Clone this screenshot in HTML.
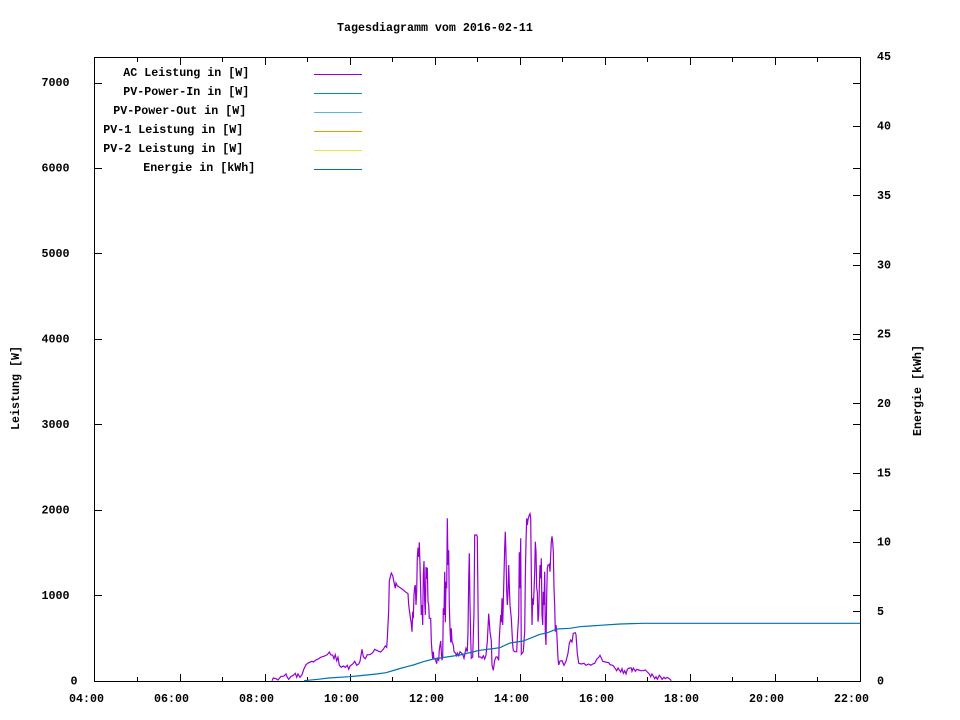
<!DOCTYPE html>
<html>
<head>
<meta charset="utf-8">
<style>
html,body{margin:0;padding:0;background:#fff;}
svg{display:block;}
text{font-family:"Liberation Mono","DejaVu Sans Mono",monospace;font-weight:bold;font-size:11.67px;fill:#000;}
</style>
</head>
<body>
<svg width="960" height="720" viewBox="0 0 960 720" xmlns="http://www.w3.org/2000/svg">
<rect x="0" y="0" width="960" height="720" fill="#fff"/>

<!-- Title -->
<text x="337" y="31">Tagesdiagramm vom 2016-02-11</text>

<!-- Frame -->
<g stroke="#000" stroke-width="1" shape-rendering="crispEdges" fill="none">
<rect x="94.5" y="57.5" width="766" height="624"/>
<!-- left y ticks + mirrored on right -->
<path d="M95 681.5h7M95 595.5h7M95 510.5h7M95 424.5h7M95 339.5h7M95 253.5h7M95 168.5h7M95 83.5h7"/>
<path d="M853 595.5h7M853 510.5h7M853 424.5h7M853 339.5h7M853 253.5h7M853 168.5h7M853 83.5h7"/>
<!-- y2 ticks -->
<path d="M853 611.5h7M853 542.5h7M853 473.5h7M853 403.5h7M853 334.5h7M853 265.5h7M853 195.5h7M853 126.5h7"/>
<!-- x major ticks bottom/top -->
<path d="M180.5 681v-7M265.5 681v-7M350.5 681v-7M435.5 681v-7M520.5 681v-7M605.5 681v-7M690.5 681v-7M775.5 681v-7"/>
<path d="M180.5 58v7M265.5 58v7M350.5 58v7M435.5 58v7M520.5 58v7M605.5 58v7M690.5 58v7M775.5 58v7"/>
<!-- x minor ticks -->
<path d="M137.5 681v-4M222.5 681v-4M307.5 681v-4M392.5 681v-4M477.5 681v-4M562.5 681v-4M647.5 681v-4M732.5 681v-4M817.5 681v-4"/>
<path d="M137.5 58v4M222.5 58v4M307.5 58v4M392.5 58v4M477.5 58v4M562.5 58v4M647.5 58v4M732.5 58v4M817.5 58v4"/>
</g>

<!-- Left y labels -->
<text x="70.5" y="684.5">0</text>
<text x="41.5" y="599">1000</text>
<text x="41.5" y="513.5">2000</text>
<text x="41.5" y="428">3000</text>
<text x="41.5" y="342.5">4000</text>
<text x="41.5" y="257">5000</text>
<text x="41.5" y="171.5">6000</text>
<text x="41.5" y="86">7000</text>

<!-- Right y labels -->
<text x="877" y="684.5">0</text>
<text x="877" y="615">5</text>
<text x="877" y="545.5">10</text>
<text x="877" y="476.5">15</text>
<text x="877" y="407">20</text>
<text x="877" y="337.5">25</text>
<text x="877" y="268.5">30</text>
<text x="877" y="199">35</text>
<text x="877" y="129.5">40</text>
<text x="877" y="60">45</text>

<!-- X labels -->
<text x="69" y="702">04:00</text>
<text x="154" y="702">06:00</text>
<text x="239" y="702">08:00</text>
<text x="324" y="702">10:00</text>
<text x="409" y="702">12:00</text>
<text x="494" y="702">14:00</text>
<text x="579" y="702">16:00</text>
<text x="664" y="702">18:00</text>
<text x="749" y="702">20:00</text>
<text x="834" y="702">22:00</text>

<!-- Axis titles -->
<text transform="translate(19,388) rotate(-90)" text-anchor="middle">Leistung [W]</text>
<text transform="translate(921,390.5) rotate(-90)" text-anchor="middle">Energie [kWh]</text>

<!-- Legend -->
<text x="123.3" y="76">AC Leistung in [W]</text>
<text x="123.3" y="95">PV-Power-In in [W]</text>
<text x="113.3" y="114">PV-Power-Out in [W]</text>
<text x="103.3" y="133">PV-1 Leistung in [W]</text>
<text x="103.3" y="152">PV-2 Leistung in [W]</text>
<text x="143.3" y="171">Energie in [kWh]</text>
<g stroke-width="1" shape-rendering="crispEdges">
<path d="M314 74.5h48" stroke="#9400d3"/>
<path d="M314 93.5h48" stroke="#009e73"/>
<path d="M314 112.5h48" stroke="#56b4e9"/>
<path d="M314 131.5h48" stroke="#e69f00"/>
<path d="M314 150.5h48" stroke="#f0e442"/>
<path d="M314 169.5h48" stroke="#0072b2"/>
</g>

<!-- AC Leistung (purple) -->
<polyline fill="none" stroke="#9400d3" stroke-width="1.2" stroke-linejoin="miter" points="
272,680.7 273.3,678 276,678.7 278,680 280.7,676.7 284,676 286,674 287.3,677.3 288.7,679.3 290.7,676.7 293.3,675.3 295.3,673.3 296.7,677.3 298,674 300,677.3 302,674.7 304,668.7 306,664.7 308.7,662.7 312,661.3 313.3,662 316,660 318.7,658.7 320.7,657.3 324.7,656 327.3,654.7 329.3,652 330.7,654.7 332.7,655.3 334,658.7 335.3,654.7 336.7,660.7 338,657.3 339.3,665.3 341.3,667.3 343.3,666 345.3,667.3 347.3,665.3 348.7,669.3 350,666 352.7,664 354.7,661.3 356.7,665.3 358.7,664 360,661.3 362,649.3 363.3,656.7 365.3,658.7 367.3,654.7 370,654.7 372.7,652.7 374.7,649.3 377.3,650.7 380.7,652 383.3,649.3 385.3,646 386.7,647.3 387.3,638.7 388.7,610 389.3,581 391.3,573 392.7,575.7 394,582.3 395.3,588.3 396,583 397.3,585.7 402,589 405.3,591.7 408,593.7 408.7,605 410,615 411.3,623.7 412,631.7 412.7,611.7 413.3,618.3 414,595 414.7,587 415.3,585 416,605 416.7,591.7 417.3,557 418,547.7 418.7,557 419.3,542.3 420,565 420.7,591.7 421.3,615 422,605 422.7,625 423.3,575 424,561 424.7,601.7 425.3,615 426,567 426.7,579 427.3,567.7 428,601.7 428.7,605 429.3,618.3 430.7,618.3 431.3,641 432,651.7 432.7,659 433.3,651.7 434,659 435.3,659 436.7,663.7 437.3,658.3 438.7,660.3 439.3,649.7 440.7,641 441.3,651.7 442,660.3 442.7,657 443.3,608.3 444,615 444.7,571.7 445.3,622.3 446,581.7 446.7,588.3 447.3,518.3 448,565 448.7,550.3 449.3,605 450,628.3 450.7,642.3 451.3,628.3 452,641.7 453.3,645 454,651.7 455.3,653 456.7,655.7 457.3,653 458.7,655.7 460,651.7 461.3,653 462.7,654.3 464,658.3 465.3,651.7 466,648.3 467.3,651.7 468,631.7 468.7,579.7 469.3,553.3 470,603.7 470.7,638.3 471.3,658.3 472.7,657 474,611.7 474.7,535 476.7,535 477.3,537 478,601.7 478.7,657 480.7,657 482,658.3 483.3,655.7 484.7,659 486,655 487.3,641.7 488.7,613.7 490,631.7 491.3,641 492,665 493.3,670.3 494.7,660.3 496,657 497.3,657 498.7,660.3 499.3,638.3 500.7,615 501.3,622.3 502,598.3 502.7,625 503.3,601.7 504,575 504.7,547.7 505.3,531.7 506,555 506.7,591.7 507.3,605 508,593 508.7,565 509.3,585 510,605 511.3,618.3 512.7,645 513.3,650.3 514.7,651.7 516.7,651.7 517.3,638.3 518.7,615 519.3,552.3 520,588.3 520.7,538.3 521.3,654.3 523.3,651.7 524.7,631.7 525.3,578.3 526,541.7 526.7,518.3 527.3,525 528,519.7 528.7,517 529.3,515 530,513.7 530.7,518.3 531.3,571.7 532,625 532.7,598.3 533.3,605 534,591.7 534.7,571.7 535.3,541.7 536,551.7 536.7,588.3 537.3,591.7 538,621.7 538.7,615 539.3,588.3 540,565 540.7,578.3 541.3,558.3 542,615 542.7,625 543.3,591.7 544,605 544.7,571.7 545.3,631.7 546,645 546.7,595 547.3,568.3 548,565 548.7,565 549.3,564.3 550,571.7 550.7,555 551.3,541.7 552,536.3 552.7,542.3 553.3,551.7 554,588.3 554.7,605 555.3,631.7 556,625 556.7,631.7 558,658.3 558.7,665 560,661 562,660.7 564,665.3 566,661.3 568,653.3 569.3,643.3 570.7,640 572,642 573.3,633.3 575.3,632.7 576,634.7 577.3,653.3 578.7,663.3 581.3,664 584,663.3 586,665.3 588.7,664 590.7,665.3 592.7,664 594.7,663.3 596.7,659.3 598.7,657.3 600,655.3 601.3,658 602.7,661.3 605.3,662 608.7,662.7 610,664.7 612.7,665.3 614,666.7 615.3,668.7 616.7,670.7 618,668 619.3,670 620.7,672 622,668.7 623.3,673.3 624.7,670.7 626,674 627.3,669.3 629.3,668 631.3,668 632,671.3 633.3,668 634.7,670 635.3,671.3 636.7,669.3 638.7,670 640.7,670.7 643.3,670.7 645.3,670 647.3,672 649.3,674 650.7,676.7 652,674 653.3,676 654.7,678.7 656,676.7 657.3,679.3 659.3,675.3 660.7,676.7 662,679.3 664,677.3 665.3,678.7 667.3,677.3 669.3,678.7 671.3,680.7"/>

<!-- Energie (blue) -->
<polyline fill="none" stroke="#0072b2" stroke-width="1.2" points="
304,680.7 318,679.3 328.7,678 349.3,676.7 356.7,676 376.7,674 386,672.7 393.3,670.5 400,668.5 406.7,666.7 413.3,665 423.3,661.7 433.3,659 446.7,657 460,655 476.7,651 480,650.3 490,649 500,647.7 510,643 523.3,641 530,638.3 540,634.3 546.7,633 556.7,629 570,628.3 580,626.7 590,626 600,625.3 620,624 643.3,623.3 860,623.3"/>
</svg>
</body>
</html>
